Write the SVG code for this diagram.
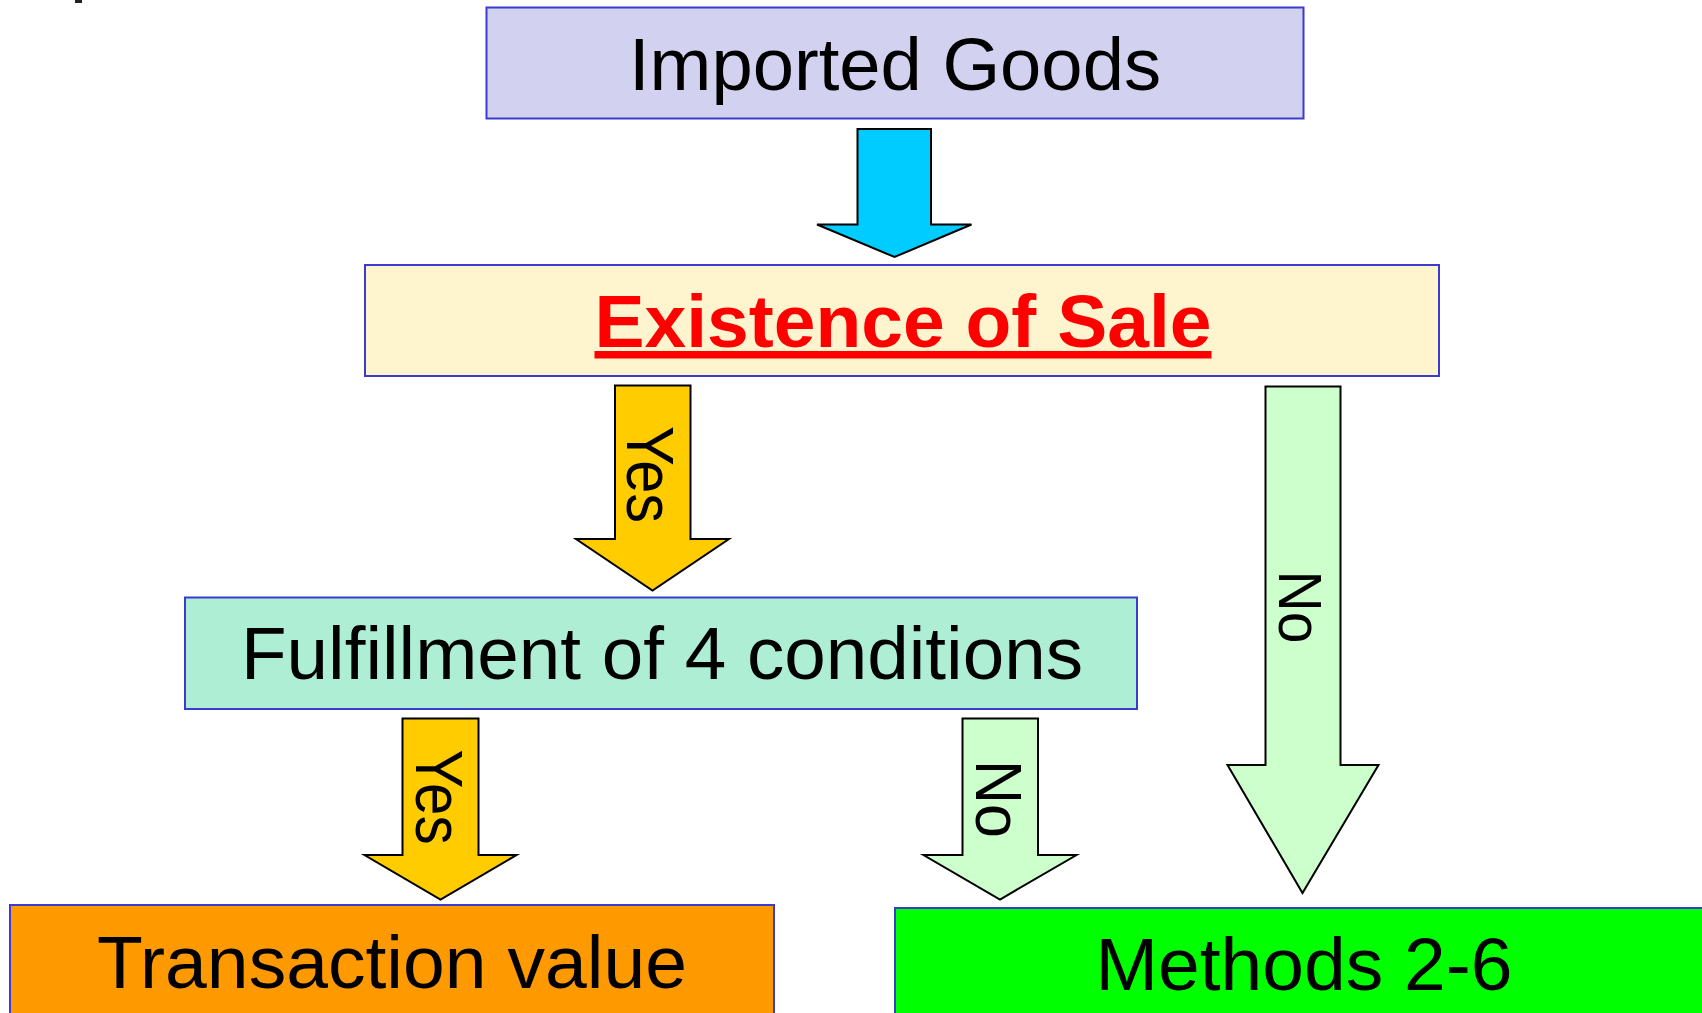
<svg xmlns="http://www.w3.org/2000/svg" width="1702" height="1013" viewBox="0 0 1702 1013">
<style>
.box{stroke:#3B3BCF;stroke-width:2}
.arr{stroke:#000;stroke-width:2;stroke-linejoin:miter}
.t{font-family:"Liberation Sans",Arial,sans-serif;font-size:74px;fill:#000;text-anchor:middle}
.v{font-family:"Liberation Sans",Arial,sans-serif;fill:#000;text-anchor:middle}
</style>
<rect width="1702" height="1013" fill="#fff"/>
<rect x="75" y="0" width="7" height="3" fill="#222"/>
<g id="connectors">
  <polygon class="arr" fill="#00CCFF" points="857.5,129 931,129 931,224.5 971.5,224.5 894.5,257 817,224.5 857.5,224.5"/>
  <g id="yes1">
    <polygon class="arr" fill="#FFCC00" points="615,385.5 690.5,385.5 690.5,539 729,539 652.5,590.5 576,539 615,539"/>
    <text class="v" font-size="66" textLength="97" lengthAdjust="spacingAndGlyphs" transform="translate(627,474.5) rotate(90)">Yes</text>
  </g>
  <g id="no1">
    <polygon class="arr" fill="#CCFFCC" points="1265.5,386.5 1340.5,386.5 1340.5,765 1378.5,765 1302.5,893 1227.5,765 1265.5,765"/>
    <text class="v" font-size="61" textLength="73" lengthAdjust="spacingAndGlyphs" transform="translate(1278.5,607) rotate(90)">No</text>
  </g>
  <g id="yes2">
    <polygon class="arr" fill="#FFCC00" points="402.5,718.5 478.5,718.5 478.5,855 516.5,855 440.5,899.5 364.5,855 402.5,855"/>
    <text class="v" font-size="66" textLength="95" lengthAdjust="spacingAndGlyphs" transform="translate(415.5,797) rotate(90)">Yes</text>
  </g>
  <g id="no2">
    <polygon class="arr" fill="#CCFFCC" points="962.5,718.5 1038,718.5 1038,855 1076.5,855 1000,899.5 923.5,855 962.5,855"/>
    <text class="v" font-size="65" textLength="78" lengthAdjust="spacingAndGlyphs" transform="translate(975.5,799) rotate(90)">No</text>
  </g>
</g>
<g id="imported-goods">
  <rect class="box" x="486.5" y="7.5" width="817" height="111" fill="#D2D2F0"/>
  <text class="t" x="895" y="89.5" font-size="71" textLength="532" lengthAdjust="spacingAndGlyphs">Imported Goods</text>
</g>
<g id="existence-of-sale">
  <rect class="box" x="365" y="265" width="1074" height="111" fill="#FEF4CD"/>
  <text x="903" y="347" font-family="'Liberation Sans',Arial,sans-serif" font-size="75" font-weight="bold" fill="#FF0000" text-anchor="middle" text-decoration="underline">Existence of Sale</text>
</g>
<g id="fulfillment">
  <rect class="box" x="185" y="597.5" width="952" height="111.5" fill="#AEEED4"/>
  <text class="t" x="662" y="679" textLength="842" lengthAdjust="spacingAndGlyphs">Fulfillment of 4 conditions</text>
</g>
<g id="transaction-value">
  <rect class="box" x="10" y="905" width="764" height="120" fill="#FF9900"/>
  <text class="t" x="392" y="987.5" textLength="590" lengthAdjust="spacingAndGlyphs">Transaction value</text>
</g>
<g id="methods">
  <rect class="box" x="895" y="908" width="820" height="120" fill="#00FF00"/>
  <text class="t" x="1304" y="990" textLength="417" lengthAdjust="spacingAndGlyphs">Methods 2-6</text>
</g>
</svg>
